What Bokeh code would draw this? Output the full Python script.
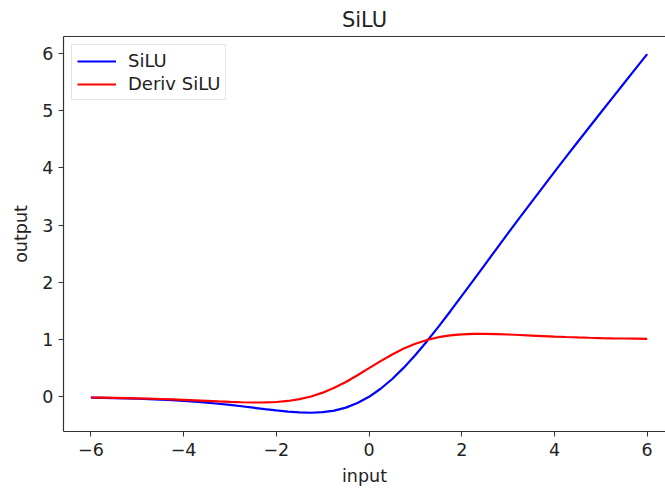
from bokeh.plotting import figure
from bokeh.models import Range1d, LinearAxis, FixedTicker, CustomJSTickFormatter, Legend, LegendItem
from bokeh.embed import file_html
from bokeh.resources import INLINE

# Values
x_vals = [-6.0, -5.75, -5.5, -5.25, -5.0, -4.75, -4.5, -4.25, -4.0, -3.75, -3.5, -3.25,
          -3.0, -2.75, -2.5, -2.25, -2.0, -1.75, -1.5, -1.25, -1.0, -0.75, -0.5, -0.25,
          0.0, 0.25, 0.5, 0.75, 1.0, 1.25, 1.5, 1.75, 2.0, 2.25, 2.5, 2.75, 3.0, 3.25,
          3.5, 3.75, 4.0, 4.25, 4.5, 4.75, 5.0, 5.25, 5.5, 5.75, 6.0]
silu_vals = [-0.0148, -0.0182, -0.0224, -0.0274, -0.0335, -0.0407, -0.0494, -0.0598,
             -0.0719, -0.0862, -0.1026, -0.1213, -0.1423, -0.1652, -0.1897, -0.2145,
             -0.2384, -0.2591, -0.2736, -0.2784, -0.2689, -0.2406, -0.1888, -0.1095,
             0.0, 0.1405, 0.3112, 0.5094, 0.7311, 0.9716, 1.2264, 1.4909, 1.7616,
             2.0355, 2.3104, 2.5848, 2.8577, 3.1287, 3.3974, 3.6638, 3.9281, 4.1902,
             4.4506, 4.7093, 4.9665, 5.2226, 5.4776, 5.7318, 5.9852]
deriv_vals = [-0.0123, -0.0150, -0.0182, -0.0220, -0.0266, -0.0318, -0.0379, -0.0449,
              -0.0527, -0.0612, -0.0703, -0.0795, -0.0881, -0.0952, -0.0994, -0.0987,
              -0.0908, -0.0727, -0.0413, 0.0063, 0.0723, 0.1574, 0.2600, 0.3763,
              0.5, 0.6237, 0.7400, 0.8426, 0.9277, 0.9937, 1.0413, 1.0727, 1.0908,
              1.0987, 1.0994, 1.0952, 1.0881, 1.0795, 1.0703, 1.0612, 1.0527, 1.0449,
              1.0379, 1.0318, 1.0266, 1.0220, 1.0182, 1.0150, 1.0123]
x_ticks = [-6, -4, -2, 0, 2, 4, 6]
y_ticks = [0, 1, 2, 3, 4, 5, 6]
title_text = "SiLU"
x_label = "input"
y_label = "output"
series_names = ["SiLU", "Deriv SiLU"]

FONT = "DejaVu Sans"
FS = "17.5px"

p = figure(width=665, height=492, output_backend="svg", toolbar_location=None,
           x_range=Range1d(-6.591, 6.395), y_range=Range1d(-0.606, 6.294),
           x_axis_type=None, y_axis_type=None,
           min_border_left=63, min_border_right=0, min_border_top=32, min_border_bottom=61)
p.outline_line_color = None
p.xgrid.visible = False
p.ygrid.visible = False
p.background_fill_color = "white"
p.border_fill_color = "white"

p.title.text = title_text
p.title.align = "center"
p.title.text_font = FONT
p.title.text_font_size = "21px"
p.title.text_font_style = "normal"
p.title.text_color = "#222222"

fmt = CustomJSTickFormatter(code="return tick < 0 ? '\u2212' + (-tick) : tick.toString();")

xaxis = LinearAxis(ticker=FixedTicker(ticks=x_ticks), formatter=fmt, axis_label=x_label)
yaxis = LinearAxis(ticker=FixedTicker(ticks=y_ticks), formatter=fmt, axis_label=y_label)
for ax in (xaxis, yaxis):
    ax.minor_tick_line_color = None
    ax.major_tick_in = 0
    ax.major_tick_out = 5
    ax.axis_line_color = "#333333"
    ax.axis_line_width = 1.2
    ax.major_tick_line_color = "#333333"
    ax.major_label_text_font = FONT
    ax.major_label_text_font_size = FS
    ax.major_label_text_color = "#222222"
    ax.axis_label_text_font = FONT
    ax.axis_label_text_font_size = FS
    ax.axis_label_text_font_style = "normal"
    ax.axis_label_text_color = "#222222"
xaxis.major_label_standoff = 6
xaxis.axis_label_standoff = 7
yaxis.major_label_standoff = 5
yaxis.axis_label_standoff = 8
p.add_layout(xaxis, "below")
p.add_layout(yaxis, "left")

top = LinearAxis(ticker=FixedTicker(ticks=[]), major_label_text_font_size="0px")
top.major_tick_line_color = None
top.minor_tick_line_color = None
top.axis_line_color = "#333333"
top.axis_line_width = 1.2
p.add_layout(top, "above")

r1 = p.line(x_vals, silu_vals, line_color="#0000ff", line_width=2.2)
r2 = p.line(x_vals, deriv_vals, line_color="#ff0000", line_width=2.2)

legend = Legend(items=[LegendItem(label=series_names[0], renderers=[r1]),
                       LegendItem(label=series_names[1], renderers=[r2])],
                location="top_left")
legend.margin = 8
legend.padding = 5
legend.spacing = 2
legend.label_standoff = 12
legend.label_text_font = FONT
legend.label_text_font_size = "18px"
legend.label_text_color = "#222222"
legend.glyph_width = 39
legend.glyph_height = 20
legend.border_line_color = "#cccccc"
legend.border_line_width = 1
legend.background_fill_alpha = 0.8
p.add_layout(legend, "center")

open("out.html", "w").write(file_html(p, INLINE))
